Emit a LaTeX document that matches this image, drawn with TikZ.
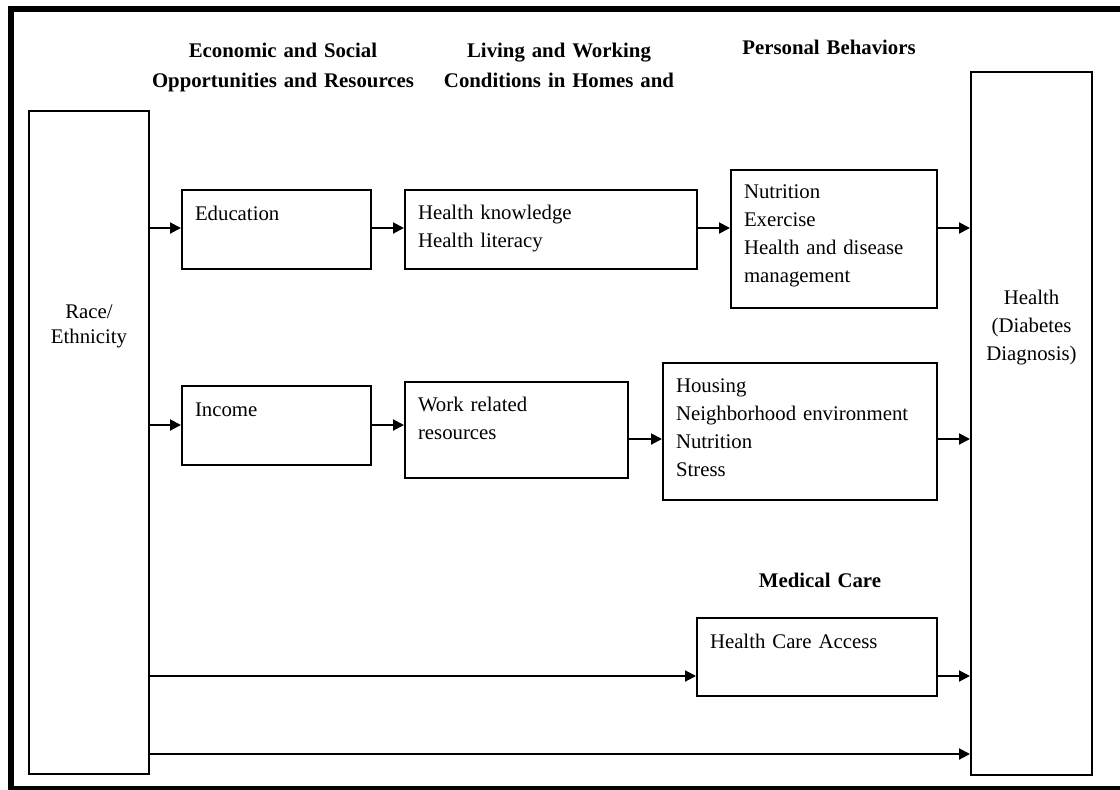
\documentclass[tikz,border=0pt]{standalone}
\usepackage{fontspec}
\setmainfont{Liberation Serif}
\usetikzlibrary{arrows.meta}

\begin{document}
\begin{tikzpicture}[
  x=0.5pt, y=-0.5pt,
  every node/.style={font=\fontsize{10.4}{14}\selectfont},
  stagebox/.style={
    rectangle, draw, line width=1pt,
    anchor=north west, align=left,
    inner xsep=6.5pt, inner ysep=0pt,
  },
  endbox/.style={
    rectangle, draw, line width=1pt,
    anchor=north west, align=center,
    inner sep=0pt,
  },
  heading/.style={
    font=\fontsize{10.4}{15}\selectfont\bfseries,
    text width=140pt, align=center, anchor=base, inner sep=0pt,
  },
  link/.style={-{Triangle[length=5.5pt, width=5.5pt]}, line width=1pt},
]

\useasboundingbox (0,0) rectangle (1120,789);
\draw[line width=3pt] (11,9) rectangle (1140,789);

\node[heading] (econ) at (283,57) {Economic and Social\\Opportunities and Resources};
\node[heading] (cond) at (559,57) {Living and Working\\Conditions in Homes and};
\node[heading] (pers) at (829,54) {Personal Behaviors};
\node[heading] (med) at (820,587) {Medical Care};

\node[endbox, text width=60pt, text height=103.5pt, text depth=228pt,
  font=\fontsize{10.4}{12.5}\selectfont] (race) at (28,110) {Race/\\Ethnicity};
\node[endbox, text width=60.5pt, text height=116pt, text depth=235.5pt] (health) at (970,71) {Health\\(Diabetes\\Diagnosis)};

\node[stagebox, text width=81.5pt, text height=15pt, text depth=24.5pt] (edu) at (181,189) {Education};
\node[stagebox, text width=133pt, text height=14.5pt, text depth=25pt] (know) at (404,189) {Health knowledge\\Health literacy};
\node[stagebox, text width=90pt, text height=14pt, text depth=55pt] (behav) at (730,169) {Nutrition\\Exercise\\Health and disease\\management};

\node[stagebox, text width=81.5pt, text height=15pt, text depth=24.5pt] (income) at (181,385) {Income};
\node[stagebox, text width=98.5pt, text height=14.5pt, text depth=33.5pt] (work) at (404,381) {Work related\\resources};
\node[stagebox, text width=124pt, text height=14.5pt, text depth=54pt] (living) at (662,362) {Housing\\Neighborhood environment\\Nutrition\\Stress};

\node[stagebox, text width=107pt, text height=15pt, text depth=24pt] (access) at (696,617) {Health Care Access};

\coordinate (r1) at (0,228);
\coordinate (r2) at (0,425);
\coordinate (r3) at (0,439);
\coordinate (r4) at (0,676);
\coordinate (r5) at (0,754);

\draw[link] (race.east |- r1) -- (edu.west |- r1);
\draw[link] (edu.east |- r1) -- (know.west |- r1);
\draw[link] (know.east |- r1) -- (behav.west |- r1);
\draw[link] (behav.east |- r1) -- (health.west |- r1);

\draw[link] (race.east |- r2) -- (income.west |- r2);
\draw[link] (income.east |- r2) -- (work.west |- r2);
\draw[link] (work.east |- r3) -- (living.west |- r3);
\draw[link] (living.east |- r3) -- (health.west |- r3);

\draw[link] (race.east |- r4) -- (access.west |- r4);
\draw[link] (access.east |- r4) -- (health.west |- r4);
\draw[link] (race.east |- r5) -- (health.west |- r5);

\end{tikzpicture}
\end{document}
